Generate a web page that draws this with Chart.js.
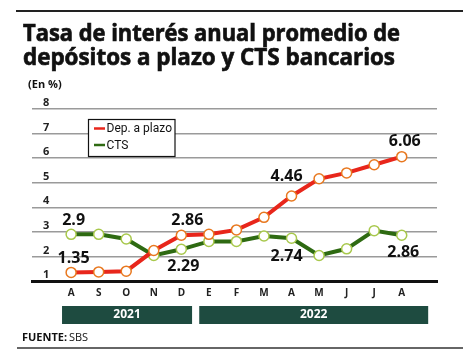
<!DOCTYPE html>
<html>
<head>
<meta charset="utf-8">
<script src="https://cdn.jsdelivr.net/npm/chart.js@4"></script>
<style>
html,body{margin:0;padding:0;background:#fff;}
canvas{display:block;}
</style>
</head>
<body>
<canvas id="c" width="474" height="355"></canvas>
<script>
const months = ['A','S','O','N','D','E','F','M','A','M','J','J','A'];
const depPlazo = [1.35, 1.37, 1.40, 2.24, 2.86, 2.90, 3.08, 3.59, 4.46, 5.16, 5.40, 5.73, 6.06];
const cts = [2.9, 2.90, 2.71, 2.04, 2.29, 2.61, 2.61, 2.83, 2.74, 2.04, 2.31, 3.05, 2.86];
const yTicks = [1, 2, 3, 4, 5, 6, 7, 8];
const seriesNames = ['Dep. a plazo', 'CTS'];
const labeledIdx = [0, 4, 8, 12];
const years = [
  {label: '2021', from: -0.33, to: 4.39},
  {label: '2022', from: 4.65, to: 12.96}
];
const titleLines = ['Tasa de interés anual promedio de', 'depósitos a plazo y CTS bancarios'];
const unitLabel = '(En %)';
const sourceBold = 'FUENTE:';
const sourceText = ' SBS';

const RED = '#e8261b', GREEN = '#2e6a12';

const labelOffsets = [
  [[2.5,-13.5],[6,-14.5],[-5,-20],[3,-15.5]],
  [[2.5,-14],[2,17],[-5,18],[1.5,17]]
];

function fitText(ctx, text, x, y, targetW) {
  const w = ctx.measureText(text).width;
  ctx.save();
  ctx.translate(x, y);
  ctx.scale(targetW / w, 1);
  ctx.fillText(text, 0, 0);
  ctx.strokeText(text, 0, 0);
  ctx.restore();
}

const deco = {
  id: 'deco',
  afterDraw(chart) {
    const ctx = chart.ctx;
    const xs = chart.scales.x, ys = chart.scales.y;
    ctx.save();
    ctx.strokeStyle = '#222'; ctx.lineWidth = 2;
    ctx.beginPath(); ctx.moveTo(16, 11); ctx.lineTo(463, 11); ctx.stroke();
    ctx.fillStyle = '#111'; ctx.strokeStyle = '#111'; ctx.lineWidth = 0.7;
    ctx.textBaseline = 'alphabetic'; ctx.textAlign = 'left';
    ctx.font = 'bold 24px "Open Sans", sans-serif';
    fitText(ctx, titleLines[0], 23, 40.5, 377);
    fitText(ctx, titleLines[1], 23, 65, 372);
    ctx.font = 'bold 11px "Open Sans", sans-serif';
    ctx.textBaseline = 'middle';
    ctx.fillText(unitLabel, 28, 85);
    ctx.fillStyle = '#fff';
    ctx.fillRect(88.5, 119.5, 86.5, 37);
    ctx.strokeStyle = '#111'; ctx.lineWidth = 1.2;
    ctx.strokeRect(88.5, 119.5, 86.5, 37);
    const legColors = [RED, GREEN];
    const legY = [128.5, 145];
    ctx.font = '12px Roboto, sans-serif';
    for (let i = 0; i < 2; i++) {
      ctx.strokeStyle = legColors[i]; ctx.lineWidth = 2.5;
      ctx.beginPath(); ctx.moveTo(94, legY[i]); ctx.lineTo(105, legY[i]); ctx.stroke();
      ctx.fillStyle = '#111';
      ctx.fillText(seriesNames[i], 106.5, legY[i] + 0.5);
    }
    ctx.font = 'bold 16px "Open Sans", sans-serif';
    ctx.textAlign = 'center'; ctx.textBaseline = 'middle';
    ctx.fillStyle = '#111';
    const series = [depPlazo, cts];
    for (let s = 0; s < 2; s++) {
      labeledIdx.forEach((idx, k) => {
        const px = xs.getPixelForValue(idx);
        const py = ys.getPixelForValue(series[s][idx]);
        const [dx, dy] = labelOffsets[s][k];
        ctx.fillText(String(series[s][idx]), px + dx, py + dy);
      });
    }
    years.forEach(y => {
      const x1 = xs.getPixelForValue(y.from), x2 = xs.getPixelForValue(y.to);
      ctx.fillStyle = '#1e4b40';
      ctx.fillRect(x1, 306, x2 - x1, 18);
      ctx.fillStyle = '#fff';
      ctx.font = 'bold 12px "Open Sans", sans-serif';
      ctx.fillText(y.label, (x1 + x2) / 2, 315);
    });
    ctx.textAlign = 'left'; ctx.fillStyle = '#111';
    ctx.font = 'bold 11px "Open Sans", sans-serif';
    ctx.fillText(sourceBold, 22, 338);
    const bw = ctx.measureText(sourceBold).width;
    ctx.font = '11px "Open Sans", sans-serif';
    ctx.fillText(sourceText, 22 + bw - 1, 338);
    ctx.strokeStyle = '#333'; ctx.lineWidth = 1.5;
    ctx.beginPath(); ctx.moveTo(17, 348); ctx.lineTo(463, 348); ctx.stroke();
    ctx.restore();
  }
};

const toPts = arr => arr.map((v, i) => ({x: i, y: v}));

new Chart(document.getElementById('c'), {
  type: 'line',
  data: {
    datasets: [
      {label: seriesNames[0], data: toPts(depPlazo), borderColor: RED, borderWidth: 4,
       pointRadius: 5, pointBorderWidth: 1.5, pointBackgroundColor: '#fff', pointBorderColor: '#e8781f', tension: 0},
      {label: seriesNames[1], data: toPts(cts), borderColor: GREEN, borderWidth: 4,
       pointRadius: 5, pointBorderWidth: 1.5, pointBackgroundColor: '#fff', pointBorderColor: '#a8c84c', tension: 0}
    ]
  },
  options: {
    responsive: false,
    animation: false,
    devicePixelRatio: 1,
    layout: {padding: {left: 23, right: 37, top: 109, bottom: 0}},
    plugins: {legend: {display: false}, tooltip: {enabled: false}, title: {display: false}},
    scales: {
      x: {
        type: 'linear', min: -1.42, max: 13.28,
        afterBuildTicks: s => { s.ticks = months.map((m, i) => ({value: i})); },
        afterFit: s => { s.height = 74; },
        grid: {display: false, drawTicks: false},
        border: {display: true, color: '#111', width: 3},
        ticks: {
          callback: (v, i) => months[i],
          font: {family: '"Open Sans", sans-serif', weight: 'bold', size: 10},
          color: '#222', padding: 6, maxRotation: 0, autoSkip: false
        }
      },
      y: {
        min: 1, max: 8,
        afterBuildTicks: s => { s.ticks = yTicks.map(v => ({value: v})); },
        afterFit: s => { s.width = 9; },
        grid: {color: '#9a9a9a', lineWidth: 1.5, drawTicks: false},
        border: {display: false},
        ticks: {
          mirror: true, padding: 11, labelOffset: -6,
          font: {family: '"Open Sans", sans-serif', weight: 'bold', size: 11},
          color: '#222'
        }
      }
    }
  },
  plugins: [deco]
});
</script>
</body>
</html>
